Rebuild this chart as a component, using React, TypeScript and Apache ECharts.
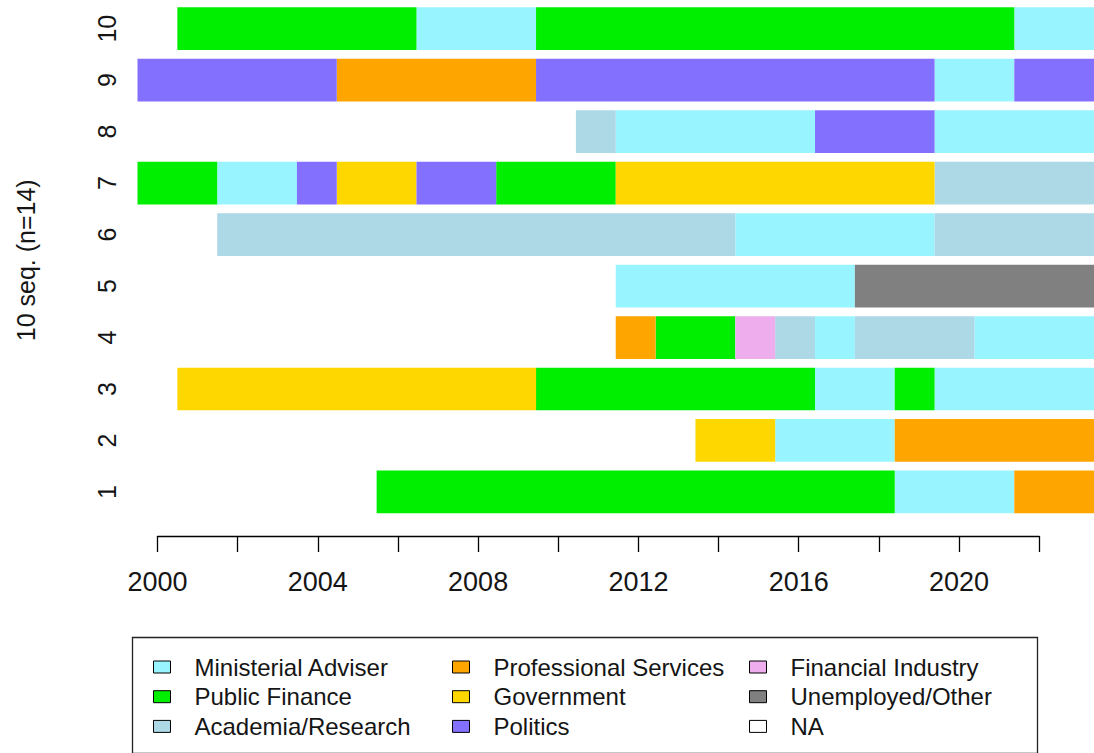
import React, { useEffect, useRef } from "react";
import * as echarts from "echarts";

const STATES = [
  "Ministerial Adviser",
  "Public Finance",
  "Academia/Research",
  "Professional Services",
  "Government",
  "Politics",
  "Financial Industry",
  "Unemployed/Other",
  "NA",
];
const CODES = ["MA", "PF", "AR", "PS", "GV", "PO", "FI", "UO", "NA"];
const COLORS = ["#98F5FF", "#00EE00", "#ADD8E6", "#FFA500", "#FFD700", "#8470FF", "#EEAEEE", "#808080", "#FFFFFF"];

const ROW_LABELS = ["1", "2", "3", "4", "5", "6", "7", "8", "9", "10"];

// runs: [state code, first year, last year]
const seq1 = [["PF", 2006, 2018], ["MA", 2019, 2021], ["PS", 2022, 2023]];
const seq2 = [["GV", 2014, 2015], ["MA", 2016, 2018], ["PS", 2019, 2023]];
const seq3 = [["GV", 2001, 2009], ["PF", 2010, 2016], ["MA", 2017, 2018], ["PF", 2019, 2019], ["MA", 2020, 2023]];
const seq4 = [["PS", 2012, 2012], ["PF", 2013, 2014], ["FI", 2015, 2015], ["AR", 2016, 2016], ["MA", 2017, 2017], ["AR", 2018, 2020], ["MA", 2021, 2023]];
const seq5 = [["MA", 2012, 2017], ["UO", 2018, 2023]];
const seq6 = [["AR", 2002, 2014], ["MA", 2015, 2019], ["AR", 2020, 2023]];
const seq7 = [["PF", 2000, 2001], ["MA", 2002, 2003], ["PO", 2004, 2004], ["GV", 2005, 2006], ["PO", 2007, 2008], ["PF", 2009, 2011], ["GV", 2012, 2019], ["AR", 2020, 2023]];
const seq8 = [["AR", 2011, 2011], ["MA", 2012, 2016], ["PO", 2017, 2019], ["MA", 2020, 2023]];
const seq9 = [["PO", 2000, 2004], ["PS", 2005, 2009], ["PO", 2010, 2019], ["MA", 2020, 2021], ["PO", 2022, 2023]];
const seq10 = [["PF", 2001, 2006], ["MA", 2007, 2009], ["PF", 2010, 2021], ["MA", 2022, 2023]];

const SEQUENCES = [seq1, seq2, seq3, seq4, seq5, seq6, seq7, seq8, seq9, seq10];

const X_MIN = 2000;
const X_MAX = 2022;
const X_TICK_STEP = 2;
const X_LABEL_STEP = 4;

const FONT = "'Liberation Sans', Arial, sans-serif";
const TEXT = "#151515";

export default function App() {
  const ref = useRef<HTMLDivElement>(null);

  useEffect(() => {
    if (!ref.current) return;
    const chart = echarts.init(ref.current, undefined, { renderer: "svg" });

    const series = STATES.map((name, si) => {
      const data: number[][] = [];
      SEQUENCES.forEach((seq, row) => {
        seq.forEach((run) => {
          if (run[0] === CODES[si]) data.push([run[1] as number, run[2] as number, row]);
        });
      });
      const color = COLORS[si];
      return {
        type: "custom",
        name,
        xAxisIndex: 0,
        yAxisIndex: 0,
        itemStyle: { color },
        encode: { x: [0, 1], y: 2 },
        data,
        renderItem: (_params: any, api: any) => {
          const row = api.value(2);
          const p0 = api.coord([api.value(0) - 0.5, row]);
          const p1 = api.coord([api.value(1) + 0.5, row]);
          const h = api.size([0, 1])[1] * 0.83;
          return {
            type: "rect",
            shape: { x: p0[0], y: p0[1] - h / 2, width: p1[0] - p0[0], height: h },
            style: { fill: color },
          };
        },
      };
    });

    const legendBase = {
      orient: "vertical",
      top: 655,
      padding: 0,
      icon: "rect",
      itemWidth: 17,
      itemHeight: 12,
      itemGap: 5.7,
      selectedMode: false,
      itemStyle: { borderColor: "#000", borderWidth: 1 },
      textStyle: { fontSize: 24, fontFamily: FONT, color: TEXT, padding: [0, 0, 0, 19] },
    };

    chart.setOption({
      animation: false,
      color: COLORS,
      grid: [
        { left: 137.5, top: 2.9, width: 961.9, height: 514.8 },
        { left: 157.5, top: 500, width: 881.7, height: 36 },
      ],
      xAxis: [
        { gridIndex: 0, type: "value", min: X_MIN - 0.5, max: X_MAX + 1.5, show: false },
        {
          gridIndex: 1,
          type: "value",
          min: X_MIN,
          max: X_MAX,
          interval: X_TICK_STEP,
          axisLine: { show: true, lineStyle: { color: "#000", width: 1.3 } },
          axisTick: { show: true, length: 16, lineStyle: { color: "#000", width: 1.3 } },
          splitLine: { show: false },
          axisLabel: {
            fontSize: 27,
            fontFamily: FONT,
            color: TEXT,
            margin: 32,
            formatter: (v: number) => (v % X_LABEL_STEP === 0 ? String(v) : ""),
          },
        },
      ],
      yAxis: [
        {
          gridIndex: 0,
          type: "category",
          data: ROW_LABELS,
          axisLine: { show: false },
          axisTick: { show: false },
          splitLine: { show: false },
          axisLabel: { rotate: 90, margin: 18, fontSize: 25, fontFamily: FONT, color: TEXT },
          name: "10 seq. (n=14)",
          nameLocation: "middle",
          nameRotate: 90,
          nameGap: 99,
          nameTextStyle: { fontSize: 25, fontFamily: FONT, color: TEXT },
        },
        { gridIndex: 1, type: "value", show: false },
      ],
      legend: [
        { ...legendBase, left: 153, data: STATES.slice(0, 3) },
        { ...legendBase, left: 452, data: STATES.slice(3, 6) },
        { ...legendBase, left: 749, data: STATES.slice(6, 9) },
      ],
      graphic: [
        {
          type: "rect",
          left: 130,
          top: 635,
          shape: { width: 905, height: 116 },
          style: { fill: "none", stroke: "#222", lineWidth: 1.3 },
          silent: true,
        },
      ],
      series,
    });

    return () => chart.dispose();
  }, []);

  return (
    <div
      ref={ref}
      style={{ position: "absolute", left: 0, top: 0, width: 1094, height: 753, background: "#fff" }}
    />
  );
}
